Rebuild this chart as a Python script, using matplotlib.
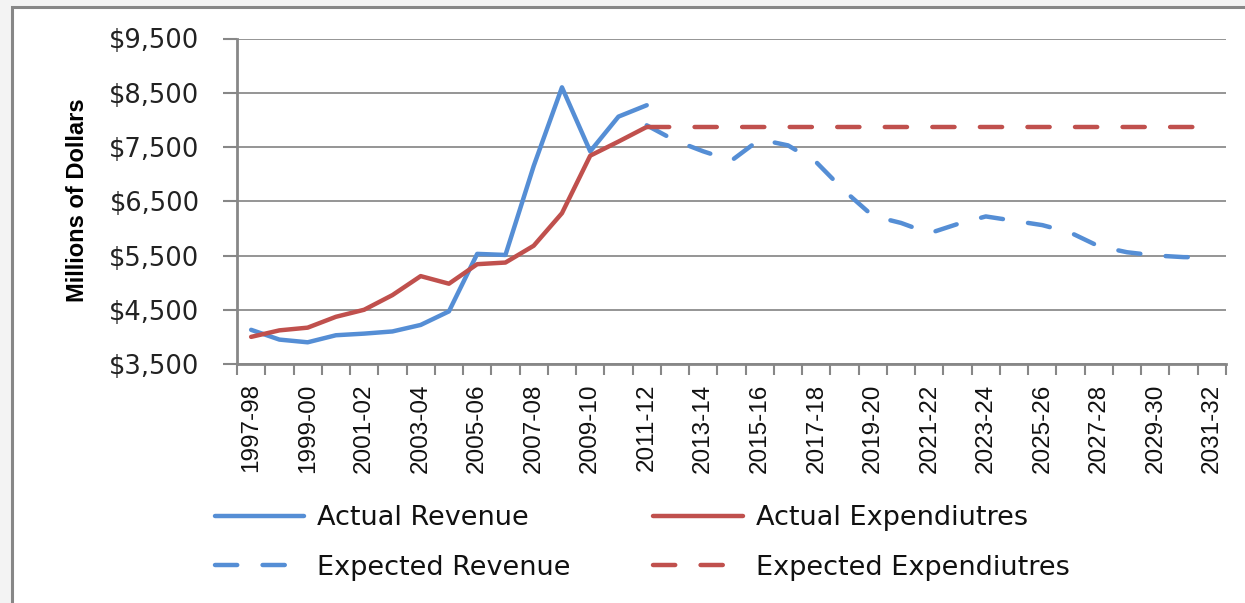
import matplotlib.pyplot as plt
import numpy as np
from matplotlib.patches import Rectangle

years = ['1997-98', '1998-99', '1999-00', '2000-01', '2001-02', '2002-03',
         '2003-04', '2004-05', '2005-06', '2006-07', '2007-08', '2008-09',
         '2009-10', '2010-11', '2011-12', '2012-13', '2013-14', '2014-15',
         '2015-16', '2016-17', '2017-18', '2018-19', '2019-20', '2020-21',
         '2021-22', '2022-23', '2023-24', '2024-25', '2025-26', '2026-27',
         '2027-28', '2028-29', '2029-30', '2030-31', '2031-32']

# actual figures, 1997-98 .. 2011-12
actual_rev = [4130, 3950, 3900, 4030, 4060, 4100, 4220, 4470, 5530, 5510,
              7150, 8600, 7420, 8060, 8270]
actual_exp = [4000, 4120, 4170, 4370, 4500, 4770, 5120, 4980, 5340, 5370,
              5680, 6280, 7340, 7600, 7870]

# projections, 2011-12 .. 2031-32
expected_rev = [7900, 7620, 7420, 7250, 7640, 7530, 7220, 6690, 6230, 6100,
                5910, 6080, 6220, 6140, 6060, 5920, 5670, 5560, 5500, 5470,
                5465]
expected_exp = [7870, 7870, 7870, 7870, 7870, 7870, 7870, 7870, 7870, 7870,
                7870, 7870, 7870, 7870, 7870, 7870, 7870, 7870, 7870, 7870,
                7870]

blue = '#558ED5'
red = '#C0504D'
grey = '#878787'

W, H = 1245, 603
fig = plt.figure(figsize=(W / 100, H / 100), dpi=100, facecolor='#F3F3F3')
fig.patches.append(Rectangle((12 / W, -0.1), 1.2, 1 - 7 / H + 0.1,
                             transform=fig.transFigure, facecolor='white',
                             edgecolor=grey, lw=2.2, zorder=-10))

ax = fig.add_axes([237 / W, 1 - 364 / H, 989 / W, (364 - 38.5) / H])
ax.set_facecolor('none')

x_act = np.arange(len(actual_rev))
x_exp = np.arange(len(actual_rev) - 1, len(years))

lw = 3.2
dash = (5.0, 5.7)
l1, = ax.plot(x_act, actual_rev, color=blue, lw=lw, solid_capstyle='round',
              solid_joinstyle='round')
l2, = ax.plot(x_act, actual_exp, color=red, lw=lw, solid_capstyle='round',
              solid_joinstyle='round')
l3, = ax.plot(x_exp, expected_rev, color=blue, lw=lw, dashes=dash,
              dash_capstyle='round')
l4, = ax.plot(x_exp, expected_exp, color=red, lw=lw, dashes=dash,
              dash_capstyle='round')

ax.set_xlim(-0.5, len(years) - 0.5)
ax.set_ylim(3500, 9500)
ax.set_yticks(np.arange(3500, 9501, 1000))
ax.yaxis.set_major_formatter(lambda v, p: '${:,.0f}'.format(v))
ax.yaxis.grid(True, color='#8C8C8C', lw=1.3)
ax.set_axisbelow(True)

for s in ['top', 'right']:
    ax.spines[s].set_visible(False)
for s in ['left', 'bottom']:
    ax.spines[s].set_color(grey)
    ax.spines[s].set_linewidth(2)

ax.tick_params(axis='y', length=10, width=1.5, color=grey, pad=17,
               labelsize=18.5, labelcolor='#222222')
for t in ax.get_yticklabels():
    t.set_fontfamily('DejaVu Sans')

# boundary ticks (major) and every-other-year labels (minor)
ax.set_xticks(np.arange(-0.5, len(years), 1))
ax.set_xticklabels([])
ax.set_xticks(np.arange(0, len(years), 2), minor=True)
ax.set_xticklabels(years[::2], minor=True, family='Liberation Sans',
                   fontsize=17.5, color='#111111')
ax.tick_params(axis='x', which='major', length=8, width=1.5, color=grey)
ax.tick_params(axis='x', which='minor', length=0, pad=14, labelrotation=90)

ax.set_ylabel('Millions of Dollars', family='Liberation Sans',
              fontweight='bold', fontsize=17, va='center')
ax.yaxis.set_label_coords((78 - 237) / 989, 0.504)

fig.legend(handles=[l1, l3, l2, l4],
           labels=['Actual Revenue', 'Expected Revenue',
                   'Actual Expendiutres', 'Expected Expendiutres'],
           ncol=2, loc='upper left', bbox_to_anchor=(215 / W, 1 - 505 / H),
           frameon=False, borderpad=0, borderaxespad=0,
           prop={'family': 'DejaVu Sans', 'size': 19.5},
           handlelength=3.3, handletextpad=0.48, columnspacing=3.05,
           labelspacing=0.88, labelcolor='#111111')

fig.savefig('out.png', dpi=100, facecolor=fig.get_facecolor())
